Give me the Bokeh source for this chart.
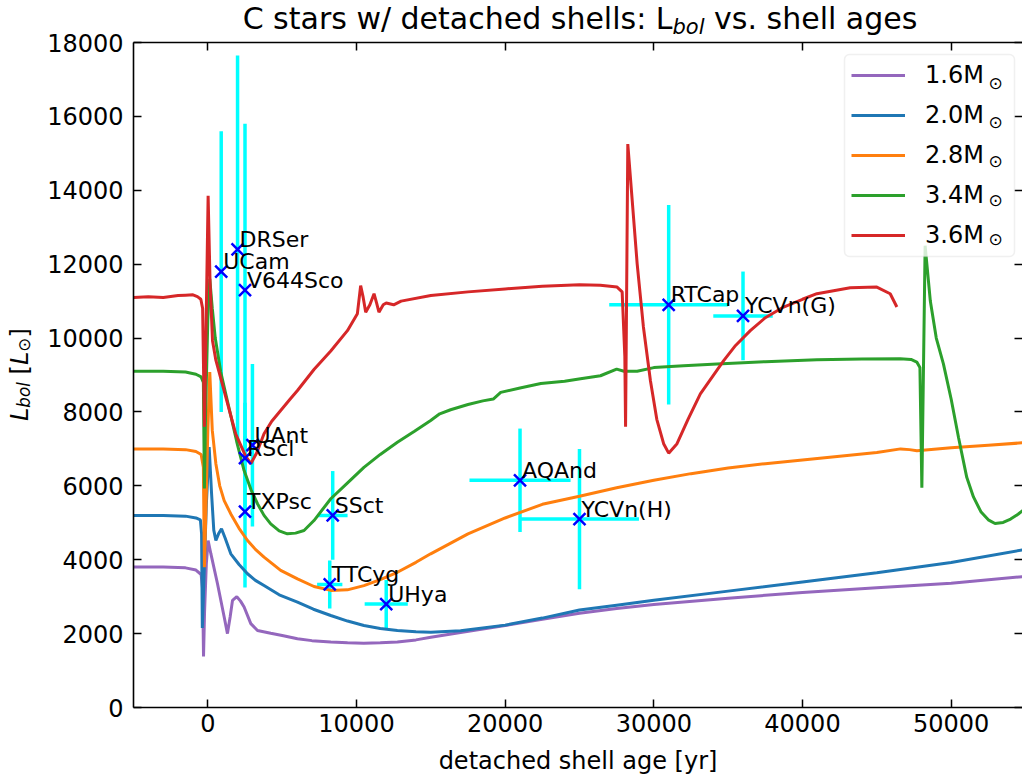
import numpy as np
from bokeh.plotting import figure
from bokeh.layouts import column, row
from bokeh.models import (Range1d, LinearAxis, FixedTicker, Legend, LegendItem, BoxAnnotation,
                          Label, ColumnDataSource, CustomJSTickFormatter, Div)
from bokeh.core.properties import value
from bokeh.embed import file_html
from bokeh.resources import INLINE

# ---------------- data ----------------
m16_x = [-5000, -3000, -1500, -800, -450, -350, -290, -220, -100, 20, 200, 650, 1100, 1320, 1500,
         1660, 1950, 2200, 2440, 2890, 3340, 4230, 5000, 6030, 7000, 8270, 9400, 10490, 11600,
         12750, 14000, 15000, 17000, 20000, 22500, 25000, 27500, 30000, 35000, 40000, 45000,
         50000, 55000]
m16_y = [3800, 3800, 3780, 3720, 3600, 3200, 1380, 2600, 3900, 4520, 4170, 3350, 2450, 2000, 2450,
         2900, 3000, 2880, 2720, 2270, 2085, 2010, 1950, 1860, 1810, 1770, 1750, 1740, 1750,
         1770, 1830, 1900, 2030, 2220, 2390, 2550, 2680, 2790, 2960, 3110, 3240, 3360, 3550]

m20_x = [-5000, -3000, -1500, -800, -500, -420, -370, -300, -100, 90, 250, 400, 540, 720, 920,
         1150, 1545, 2100, 2670, 3200, 3780, 4800, 6030, 7100, 8270, 9400, 10500, 11600, 12750,
         14000, 15000, 17000, 20000, 22500, 25000, 27500, 30000, 35000, 40000, 45000, 50000, 55000]
m20_y = [5200, 5200, 5180, 5130, 5080, 4700, 2150, 3000, 5500, 7050, 5800, 4800, 4520, 4700, 4840,
         4600, 4160, 3870, 3620, 3440, 3300, 3050, 2850, 2660, 2490, 2340, 2220, 2140, 2085,
         2050, 2040, 2080, 2230, 2420, 2640, 2770, 2900, 3150, 3400, 3650, 3925, 4280]

m28_x = [-5000, -3000, -1500, -800, -450, -300, -230, -150, 0, 130, 300, 540, 800, 1100, 1545,
         2100, 2670, 3200, 3780, 4900, 6030, 7140, 8270, 9390, 10500, 11600, 12750, 14000, 14990,
         17500, 20000, 22500, 25000, 27500, 30000, 32500, 35000, 37500, 40000, 42500, 45000,
         46600, 47200, 47700, 50000, 52500, 55000]
m28_y = [7000, 7000, 6980, 6930, 6850, 6500, 3800, 5000, 7500, 9080, 7500, 6600, 6000, 5600, 5240,
         4850, 4520, 4280, 4070, 3710, 3480, 3275, 3170, 3185, 3300, 3460, 3660, 3930, 4160,
         4700, 5130, 5500, 5720, 5950, 6150, 6330, 6480, 6600, 6700, 6800, 6900,
         7000, 6980, 6950, 7030, 7100, 7170]

m34_x = [-5000, -3000, -1500, -800, -450, -300, -230, -150, 0, 130, 300, 500, 870, 1200, 1545,
         2000, 2440, 2900, 3340, 3780, 4230, 4800, 5350, 5900, 6470, 7140, 8270, 9400, 10500,
         11600, 12750, 13900, 14990, 15600, 16330, 17500, 18500, 19200, 19700, 21000, 22400,
         24000, 25070, 26410, 27500, 28000, 28880, 30000, 32000, 34250, 37500, 40970, 44000,
         46570, 47300, 47690, 47900, 48030, 48250, 48600, 49000, 49480, 50000, 50500, 51050,
         51500, 52000, 52500, 52950, 53500, 54000, 54500, 55000]
m34_y = [9100, 9100, 9080, 9020, 8950, 8800, 5930, 8000, 10500, 11600, 10800, 10000, 9080, 8500,
         7900, 7100, 6415, 5900, 5515, 5200, 4970, 4780, 4700, 4720, 4790, 5060, 5650, 6080, 6500,
         6850, 7180, 7480, 7770, 7950, 8060, 8200, 8300, 8350, 8530, 8650, 8770,
         8830, 8900, 8980, 9160, 9100, 9100, 9200, 9250, 9300, 9360, 9410, 9430,
         9440, 9420, 9350, 9200, 5950, 12500, 11000, 10000, 9300, 8350, 7300, 6230,
         5700, 5300, 5080, 4980, 5010, 5100, 5230, 5390]

m36_x = [-5000, -4000, -3000, -2000, -1500, -1000, -700, -470, -350, -230, -150, 20, 150, 315,
         540, 1210, 1880, 2550, 2890, 3300, 3780, 4300, 4900, 5500, 6030, 7140, 8270, 9390,
         10060, 10280, 10450, 10620, 10900, 11180, 11350, 11510, 11800, 12000, 12500, 13000,
         15000, 17500, 20000, 22500, 25000, 26400, 27530, 27870, 28050, 28100, 28250, 28880,
         29300, 29770, 30200, 30660, 31000, 31560, 32300, 33130, 34700, 35500, 36490, 37500,
         38730, 40000, 40970, 43210, 45000, 45900, 46350]
m36_y = [11100, 11120, 11100, 11150, 11160, 11170, 11120, 11050, 10800, 7600, 9500, 13850, 11500,
         9930, 9400, 8400, 7400, 6800, 6600, 6900, 7410, 7750, 8040, 8330, 8580, 9150, 9650,
         10200, 10660, 11420, 11100, 10700, 10900, 11200, 10950, 10700, 10900, 10950, 10900,
         11000, 11150, 11250, 11330, 11400, 11440, 11430, 11380, 11250, 9500, 7600, 15250, 12010,
         10300, 8850, 7800, 7140, 6885, 7140, 7800, 8490, 9390, 9800, 10200, 10550,
         10840, 11050, 11200, 11360, 11380, 11200, 10840]

model_labels = ["1.6M", "2.0M", "2.8M", "3.4M", "3.6M"]
model_colors = ["#9467bd", "#1f77b4", "#ff7f0e", "#2ca02c", "#d62728"]

star_names = ["UCam", "DRSer", "V644Sco", "UAnt", "RScl", "TXPsc", "SSct", "TTCyg", "UHya",
              "AQAnd", "YCVn(H)", "RTCap", "YCVn(G)"]
star_age = [900, 2000, 2500, 3000, 2500, 2500, 8400, 8200, 12000, 21000, 25000, 31000, 36000]
star_age_err = [0, 0, 0, 0, 0, 0, 1000, 850, 1450, 3400, 4000, 4000, 2000]
star_lum = [11800, 12400, 11300, 7100, 6750, 5300, 5200, 3330, 2800, 6150, 5100, 10900, 10600]
star_lum_err = [3800, 5250, 4500, 2200, 1500, 2050, 1200, 650, 650, 1400, 1900, 2700, 1200]

x_ticks = [0, 10000, 20000, 30000, 40000, 50000]
y_ticks = [0, 2000, 4000, 6000, 8000, 10000, 12000, 14000, 16000, 18000]

# ---------------- layout ----------------
FONT = "DejaVu Sans"
X0, X1, Y0, Y1 = -5000, 54800, 0, 18000
TITLE_H = 26          # height of the title strip
YL_W = 40             # width of the y-label strip
ML, MT, MB, MR = 93, 16, 74, 0
PW = 1022 - YL_W
PH = 707 - TITLE_H + MB
FL, FR = YL_W + ML, YL_W + PW - MR
FT, FB = TITLE_H + MT, TITLE_H + PH - MB


def dx(px):
    return X0 + (px - FL) * (X1 - X0) / (FR - FL)


def dy(py):
    return Y0 + (FB - py) * (Y1 - Y0) / (FB - FT)


p = figure(width=PW, height=PH, x_range=Range1d(X0, X1), y_range=Range1d(Y0, Y1),
           output_backend="svg", toolbar_location=None,
           min_border_left=ML, min_border_top=MT, min_border_bottom=MB, min_border_right=MR)
p.outline_line_color = None
p.grid.visible = False
p.background_fill_color = "white"
p.border_fill_color = None

xt = FixedTicker(ticks=x_ticks)
yt = FixedTicker(ticks=y_ticks)

for ax in (p.xaxis[0], p.yaxis[0]):
    ax.axis_line_width = 1.6
    ax.major_tick_line_width = 1.5
    ax.major_tick_in = 8
    ax.major_tick_out = 0
    ax.minor_tick_in = 0
    ax.minor_tick_out = 0
    ax.major_label_text_font = FONT
    ax.major_label_text_font_size = "24px"
    ax.major_label_text_color = "black"

p.xaxis[0].ticker = xt
p.yaxis[0].ticker = yt
p.xaxis[0].major_label_standoff = 6
p.xaxis[0].axis_label = "detached shell age [yr]"
p.xaxis[0].axis_label_text_font = FONT
p.xaxis[0].axis_label_text_font_size = "24px"
p.xaxis[0].axis_label_text_font_style = "normal"
p.xaxis[0].axis_label_text_color = "black"
p.xaxis[0].axis_label_standoff = 12
p.yaxis[0].major_label_standoff = 10
p.yaxis[0].axis_label = None

top_ax = LinearAxis(ticker=xt, formatter=CustomJSTickFormatter(code="return ''"),
                    major_tick_in=8, major_tick_out=0,
                    minor_tick_in=0, minor_tick_out=0, axis_line_width=1.6,
                    major_tick_line_width=1.5, major_label_standoff=0,
                    major_label_text_font_size="1px")
right_ax = LinearAxis(ticker=yt, formatter=CustomJSTickFormatter(code="return ''"),
                      major_tick_in=8, major_tick_out=0,
                      minor_tick_in=0, minor_tick_out=0, axis_line_color=None,
                      major_tick_line_width=1.5, major_label_standoff=0,
                      major_label_text_font_size="1px")
p.add_layout(top_ax, "above")
p.add_layout(right_ax, "right")

# ---------------- error bars ----------------
age = np.array(star_age, dtype=float)
lum = np.array(star_lum, dtype=float)
aerr = np.array(star_age_err, dtype=float)
lerr = np.array(star_lum_err, dtype=float)
src = ColumnDataSource(dict(name=star_names, age=age, lum=lum,
                            ly0=lum - lerr, ly1=lum + lerr))
p.segment(x0="age", x1="age", y0="ly0", y1="ly1", source=src, line_color="#00ffff", line_width=3.5)
hmask = aerr > 0
hsrc = ColumnDataSource(dict(ax0=(age - aerr)[hmask], ax1=(age + aerr)[hmask], lum=lum[hmask]))
p.segment(x0="ax0", x1="ax1", y0="lum", y1="lum", source=hsrc, line_color="#00ffff", line_width=3.5)

# ---------------- model curves ----------------
curves = [(m16_x, m16_y), (m20_x, m20_y), (m28_x, m28_y), (m34_x, m34_y), (m36_x, m36_y)]
items = []
for (cx, cy), lab, col in zip(curves, model_labels, model_colors):
    r = p.line(cx, cy, line_color=col, line_width=3)
    items.append(LegendItem(label=lab, renderers=[r]))

# ---------------- stars ----------------
p.scatter(x="age", y="lum", source=src, marker="x", size=17, line_color="#0000ff", line_width=2.5)
p.text(x="age", y="lum", text="name", source=src, x_offset=2, y_offset=-10,
       text_font=value(FONT), text_font_size="22px", text_align="left",
       text_baseline="alphabetic", text_color="black")

# ---------------- legend ----------------
LEG_L, LEG_T, LEG_R, LEG_B = 844, 54, 1014, 256
p.add_layout(BoxAnnotation(left=dx(LEG_L), right=dx(LEG_R), top=dy(LEG_T), bottom=dy(LEG_B),
                           fill_color="white", fill_alpha=0.8, line_color="#cccccc",
                           line_width=1.5, border_radius=5))
legend = Legend(items=items, location=(LEG_L - FL + 7, FB - 249),
                label_text_font=FONT, label_text_font_size="24px", label_text_color="black",
                glyph_width=54, glyph_height=20, label_standoff=20, label_width=78,
                label_height=20, padding=8, spacing=12, margin=0,
                border_line_color=None, background_fill_alpha=0)
p.add_layout(legend, "center")
for i in range(len(model_labels)):
    p.add_layout(Label(x=dx(LEG_L + 151), y=dy(LEG_T + 8 + 14 + 39 * i + 6), text="\u2299",
                       text_font=FONT, text_font_size="17px", text_align="center",
                       text_baseline="middle", text_color="black"))

# ---------------- title and y label (real HTML text with subscripts) ----------------
title_html = (
    '<div style="box-sizing:border-box; font-family:\'DejaVu Sans\'; font-size:30px; '
    'line-height:34px; padding:2px 0 0 138px; width:1022px; text-align:center; '
    'white-space:nowrap; color:black;">'
    'C stars w/ detached shells: L<span style="font-size:21px; font-style:italic; '
    'vertical-align:-5px; line-height:0;">bol</span> vs. shell ages</div>'
)
title_div = Div(text=title_html, width=1022, height=TITLE_H, margin=(0, 0, 0, 0),
                styles={"overflow": "visible", "z-index": "10"})

ylab_html = (
    '<div style="box-sizing:border-box; margin:%dpx 0 0 6px; height:665px; width:28px; '
    'writing-mode:vertical-rl; transform:rotate(180deg); text-align:center; white-space:nowrap; '
    'line-height:28px; font-family:\'DejaVu Sans\'; font-size:24px; color:black;">'
    '<i>L</i><span style="font-size:16.8px; font-style:italic; vertical-align:-4px; '
    'line-height:0;">bol</span> [<i>L</i><span style="font-size:16.8px; vertical-align:-4px; '
    'line-height:0;">\u2299</span>]</div>' % MT
)
ylab_div = Div(text=ylab_html, width=YL_W, height=PH, margin=(0, 0, 0, 0),
               styles={"overflow": "visible"})

layout = column(title_div, row(ylab_div, p, spacing=0), spacing=0)

open("out.html", "w").write(file_html(layout, INLINE, title="C stars w/ detached shells"))
